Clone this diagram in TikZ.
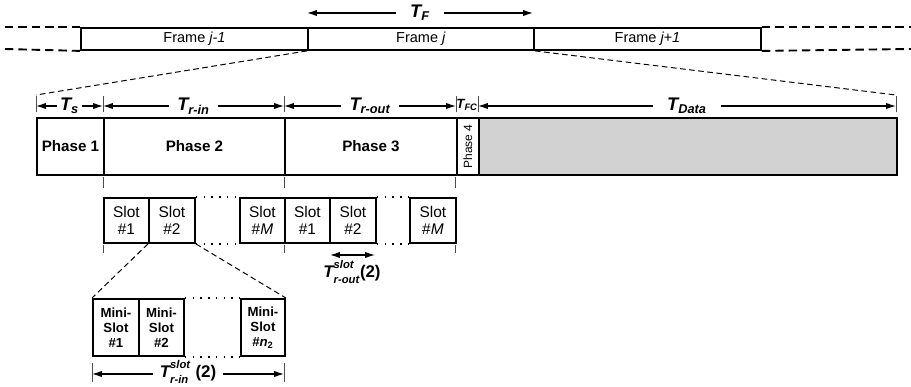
\documentclass[tikz,border=0pt]{standalone}
\usepackage{fontspec}
\setmainfont{Liberation Sans}
\usepackage{amsmath}
\usetikzlibrary{arrows.meta,positioning,calc}
\newcommand{\pxu}{0.25mm}
\newcommand{\tsub}[1]{$\text{\bfseries\itshape T}_{\text{\bfseries\itshape #1}}$}
\newcommand{\tslot}[1]{$\text{\bfseries\itshape T}^{\text{\raisebox{1.5pt}{\bfseries\itshape slot}}}_{\text{\raisebox{-1.5pt}{\bfseries\itshape #1}}}$}

\begin{document}
\begin{tikzpicture}[x=0.25mm, y=-0.25mm,
  cell/.style={draw, line width=1.35pt, anchor=north west, inner sep=0pt, align=center},
  framebox/.style={cell, minimum height=22*\pxu, font=\fontsize{10.3}{12}\selectfont},
  phasebox/.style={cell, minimum height=57*\pxu, font=\bfseries\fontsize{10.8}{12}\selectfont},
  slotbox/.style={cell, minimum height=45*\pxu, font=\fontsize{11}{12.2}\selectfont},
  minibox/.style={cell, minimum height=57*\pxu, font=\bfseries\fontsize{9.4}{10.8}\selectfont},
  ext/.style={line width=1.35pt, dash pattern=on 6pt off 3.5pt},
  zoomline/.style={line width=0.7pt, dash pattern=on 4pt off 2.5pt},
  dotline/.style={line width=1.2pt, dash pattern=on 1pt off 4.5pt},
  tick/.style={line width=0.6pt, gray!60!black},
  dim/.style={{Latex[length=7pt,width=4.5pt]}-{Latex[length=7pt,width=4.5pt]}, line width=0.9pt},
  tlabel/.style={fill=white, inner xsep=6pt, inner ysep=1pt, font=\fontsize{13}{15}\selectfont}
]
  \useasboundingbox (0,0) rectangle (911,386);

  % Frames
  \node[framebox, minimum width=227*\pxu] (fjm) at (80,27) {Frame \textit{j-1}};
  \node[framebox, minimum width=226*\pxu] (fj) at (307,27) {Frame \textit{j}};
  \node[framebox, minimum width=227*\pxu] (fjp) at (533,27) {Frame \textit{j+1}};
  \coordinate (lt) at (5,27);
  \coordinate (lb) at (5,49);
  \coordinate (rt) at (911,27);
  \coordinate (rb) at (911,49);
  \draw[ext] (lt) -- (fjm.north west);
  \draw[ext] (lb) -- (fjm.south west);
  \draw[ext] (fjp.north east) -- (rt);
  \draw[ext] (fjp.south east) -- (rb);

  % Frame length
  \coordinate (tfl) at (307,13);
  \coordinate (tfr) at (533,13);
  \draw[dim] (tfl) -- node[tlabel, inner xsep=10pt] (tf) {\tsub{F}} (tfr);

  % Zoom into frame j
  \coordinate (zl) at (36,95);
  \coordinate (zr) at (896,95);
  \draw[zoomline] (fj.south west) -- (zl);
  \draw[zoomline] (fj.south east) -- (zr);

  % Phases
  \node[phasebox, minimum width=67*\pxu] (ph1) at (36,117) {Phase 1};
  \node[phasebox, minimum width=181*\pxu] (ph2) at (103,117) {Phase 2};
  \node[phasebox, minimum width=172*\pxu] (ph3) at (284,117) {Phase 3};
  \node[phasebox, minimum width=22*\pxu] (ph4) at (456,117) {};
  \node[rotate=90, font=\fontsize{8.5}{10}\selectfont, inner sep=0pt] (ph4txt) at (ph4.center) {Phase 4};
  \node[phasebox, minimum width=418*\pxu, fill=gray!35] (data) at (478,117) {};

  % Phase lengths
  \foreach \x in {36,103,284,456,478,896} \draw[tick] (\x,96) -- (\x,112);
  \coordinate (t0) at (36,106);
  \coordinate (t1) at (103,106);
  \coordinate (t2) at (284,106);
  \coordinate (t3) at (456,106);
  \coordinate (t4) at (478,106);
  \coordinate (t5) at (896,106);
  \draw[dim] (t0) -- node[tlabel, inner xsep=2pt] (ts) {\tsub{s}} (t1);
  \draw[dim] (t1) -- node[tlabel] (trin) {\tsub{r-in}} (t2);
  \draw[dim] (t2) -- node[tlabel] (trout) {\tsub{r-out}} (t3);
  \node[inner sep=0pt, font=\fontsize{9.5}{10}\selectfont] (tfc) at (467,105) {\tsub{FC}};
  \draw[dim] (t4) -- node[tlabel, inner xsep=10pt] (tdata) {\tsub{Data}} (t5);

  % Slots of phases 2 and 3
  \foreach \x in {103,284,455} {
    \draw[tick] (\x,177) -- (\x,188);
    \draw[tick] (\x,245) -- (\x,253);
  }
  \node[slotbox, minimum width=45*\pxu] (s1) at (103,197) {Slot\\\#1};
  \node[slotbox, minimum width=46*\pxu] (s2) at (148,197) {Slot\\\#2};
  \node[slotbox, minimum width=45*\pxu] (sm) at (239,197) {Slot\\\#\textit{M}};
  \node[slotbox, minimum width=45*\pxu] (o1) at (284,197) {Slot\\\#1};
  \node[slotbox, minimum width=46*\pxu] (o2) at (329,197) {Slot\\\#2};
  \node[slotbox, minimum width=46*\pxu] (om) at (409,197) {Slot\\\#\textit{M}};
  \draw[dotline] (s2.north east) -- (sm.north west);
  \draw[dotline] (s2.south east) -- (sm.south west);
  \draw[dotline] (o2.north east) -- (om.north west);
  \draw[dotline] (o2.south east) -- (om.south west);

  % Slot length in phase 3
  \coordinate (ol) at (330,255);
  \coordinate (or) at (375,255);
  \draw[dim] (ol) -- (or);
  \node[font=\fontsize{12}{13}\selectfont] (tslout) at (352,272) {\tslot{r-out}\textbf{(2)}};

  % Mini-slots of slot 2
  \node[minibox, minimum width=46*\pxu] (m1) at (92,298) {Mini-\\Slot\\\#1};
  \node[minibox, minimum width=45*\pxu] (m2) at (138,298) {Mini-\\Slot\\\#2};
  \node[minibox, minimum width=44*\pxu] (mn) at (240,298) {Mini-\\Slot\\\#\textit{n}\textsubscript{2}};
  \draw[dotline] (m2.north east) -- (mn.north west);
  \draw[dotline] (m2.south east) -- (mn.south west);
  \draw[zoomline] (s2.south west) -- (m1.north west);
  \draw[zoomline] (s2.south east) -- (mn.north east);

  % Slot length in phase 2
  \foreach \x in {92,284} \draw[tick] (\x,363) -- (\x,382);
  \coordinate (ml) at (92,374);
  \coordinate (mr) at (284,374);
  \draw[dim] (ml) -- node[fill=white, inner xsep=5pt, inner ysep=0pt, yshift=1.5pt, font=\fontsize{12}{13}\selectfont] (tslin) {\tslot{r-in} \textbf{(2)}} (mr);
\end{tikzpicture}
\end{document}
